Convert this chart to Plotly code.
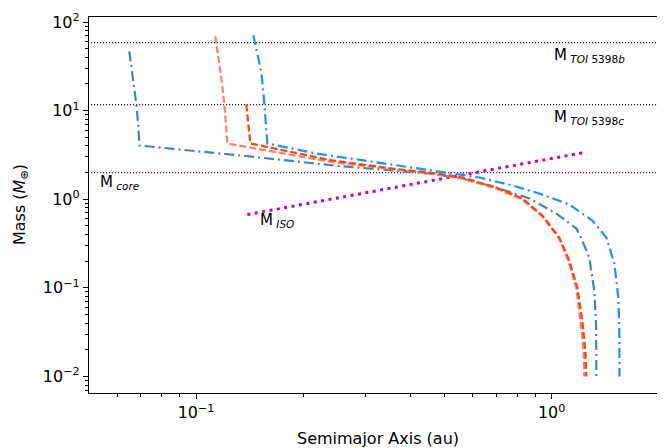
import numpy as np
import plotly.graph_objects as go

# ---- data ----
# Track 1 (steelblue, dash-dot)
a_steel = [0.0649, 0.0666, 0.0679, 0.0688, 0.0693, 0.1413, 0.2449, 0.453, 0.561, 0.699, 0.866,
           1.031, 1.174, 1.220, 1.276, 1.318, 1.333, 1.336]
m_steel = [46.7, 23.1, 12.06, 6.80, 4.04, 3.04, 2.40, 1.95, 1.71, 1.356, 1.02,
           0.689, 0.467, 0.341, 0.219, 0.0929, 0.0394, 0.01]

# Track 2 (salmon, dashed)
a_salmon = [0.1133, 0.1170, 0.1201, 0.1216, 0.1225, 0.1413, 0.2449, 0.453, 0.561, 0.699, 0.827,
            0.9415, 1.051, 1.114, 1.173, 1.205, 1.230, 1.236]
m_salmon = [68.9, 28.5, 12.06, 6.8, 4.26, 3.84, 2.60, 1.95, 1.71, 1.32, 0.99,
            0.64, 0.36, 0.203, 0.1005, 0.0426, 0.0195, 0.01]

# Track 3 (orangered, dashed)
a_orange = [0.1385, 0.1403, 0.1421, 0.2416, 0.3565, 0.453, 0.561, 0.699, 0.827, 0.9415,
            1.051, 1.121, 1.181, 1.220, 1.244, 1.252]
m_orange = [11.75, 6.8, 4.26, 2.74, 2.22, 2.00, 1.76, 1.356, 1.02, 0.654,
            0.369, 0.203, 0.1005, 0.0426, 0.0195, 0.01]

# Track 4 (dodgerblue, dash-dot)
a_dodger = [0.1449, 0.1527, 0.1556, 0.1576, 0.1587, 0.218, 0.334, 0.516, 0.626, 0.775, 0.923,
            1.121, 1.302, 1.425, 1.501, 1.540, 1.550, 1.552]
m_dodger = [70.8, 27.0, 12.06, 6.80, 4.26, 3.28, 2.53, 1.95, 1.76, 1.43, 1.16,
            0.871, 0.574, 0.369, 0.1877, 0.0775, 0.0355, 0.01]

# Isolation mass line
a_iso = [0.1394, 1.236]
m_iso = [0.671, 3.37]

# Reference masses
m_toi_b = 58.5
m_toi_c = 11.7
m_core = 2.0

x_range_vals = [0.05, 2.07]
y_range_vals = [0.0065, 114.0]

x_tickvals = [0.1, 1.0]
x_ticktext = ["10<sup>−1</sup>", "10<sup>0</sup>"]
y_tickvals = [0.01, 0.1, 1, 10, 100]
y_ticktext = ["10<sup>−2</sup>", "10<sup>−1</sup>", "10<sup>0</sup>", "10<sup>1</sup>", "10<sup>2</sup>"]

FONT = "DejaVu Sans"

fig = go.Figure()

span = [0.03, 3.0]
fig.add_trace(go.Scatter(x=span, y=[m_toi_b] * 2, mode="lines",
                         line=dict(color="black", width=1.2, dash="1px,2px")))
fig.add_trace(go.Scatter(x=span, y=[m_toi_c] * 2, mode="lines",
                         line=dict(color="black", width=1.2, dash="1px,2px")))
fig.add_trace(go.Scatter(x=span, y=[m_core] * 2, mode="lines",
                         line=dict(color="blue", width=1.2, dash="1px,2px")))

fig.add_trace(go.Scatter(x=a_iso, y=m_iso, mode="lines",
                         line=dict(color="#BF00BF", width=3, dash="3px,4.5px")))

fig.add_trace(go.Scatter(x=a_steel, y=m_steel, mode="lines",
                         line=dict(color="steelblue", width=2.2, dash="10px,4px,2px,4px")))
fig.add_trace(go.Scatter(x=a_salmon, y=m_salmon, mode="lines",
                         line=dict(color="salmon", width=2.2, dash="7px,3px")))
fig.add_trace(go.Scatter(x=a_orange, y=m_orange, mode="lines",
                         line=dict(color="orangered", width=2.2, dash="7px,3px")))
fig.add_trace(go.Scatter(x=a_dodger, y=m_dodger, mode="lines",
                         line=dict(color="dodgerblue", width=2.2, dash="10px,4px,2px,4px")))

ann_font = dict(family=FONT, size=15, color="black")
anns = [
    (1.0, 1.624, "M<sub> <i>TOI</i> 5398<i>b</i></sub>"),
    (1.0, 0.923, "M<sub> <i>TOI</i> 5398<i>c</i></sub>"),
    (0.0531, 0.189, "M<sub> <i>core</i></sub>"),
    (0.1496, -0.241, "M<sub> <i>ISO</i></sub>"),
]
for ax_, ly, txt in anns:
    fig.add_annotation(x=np.log10(ax_), y=ly, text=txt, showarrow=False,
                       xanchor="left", yanchor="middle", font=ann_font)

# axis titles placed as annotations (pixel-accurate)
PW, PH = 575.0, 376.0
fig.add_annotation(xref="paper", yref="paper", x=(378 - 89) / PW, y=(393 - 438) / PH,
                   text="Semimajor Axis (au)", showarrow=False, xanchor="center", yanchor="middle",
                   font=dict(family=FONT, size=16, color="black"))
fig.add_annotation(xref="paper", yref="paper", x=(20 - 89) / PW, y=(393 - 205) / PH,
                   text="Mass (<i>M</i><sub>⊕</sub>)", showarrow=False, textangle=-90,
                   xanchor="center", yanchor="middle",
                   font=dict(family=FONT, size=16, color="black"))

axis_common = dict(type="log", showgrid=False, zeroline=False, showline=True, automargin=False,
                   linecolor="black", linewidth=1.3, mirror=True,
                   ticks="outside", ticklen=5, tickwidth=1.2, tickcolor="black",
                   tickfont=dict(family=FONT, size=16, color="black"))

x_minor = [0.06, 0.07, 0.08, 0.09] + [k / 10 for k in range(2, 10)] + [2.0]
y_minor = []
for e in [-3, -2, -1, 0, 1]:
    for k in range(2, 10):
        y_minor.append(k * 10.0 ** e)

fig.update_xaxes(**axis_common,
                 range=[np.log10(x_range_vals[0]), np.log10(x_range_vals[1])],
                 tickvals=x_tickvals, ticktext=x_ticktext,
                 minor=dict(tickvals=x_minor, ticks="outside", ticklen=3, tickwidth=1, tickcolor="black"))
fig.update_yaxes(**axis_common,
                 range=[np.log10(y_range_vals[0]), np.log10(y_range_vals[1])],
                 tickvals=y_tickvals, ticktext=y_ticktext,
                 minor=dict(tickvals=y_minor, ticks="outside", ticklen=3, tickwidth=1, tickcolor="black"))

# page body has an 8px default margin, so the figure is sized/offset to compensate
fig.update_layout(width=657, height=440, showlegend=False,
                  margin=dict(l=81, r=1, t=9, b=55),
                  paper_bgcolor="white", plot_bgcolor="white",
                  font=dict(family=FONT))

fig.write_html("out.html")
